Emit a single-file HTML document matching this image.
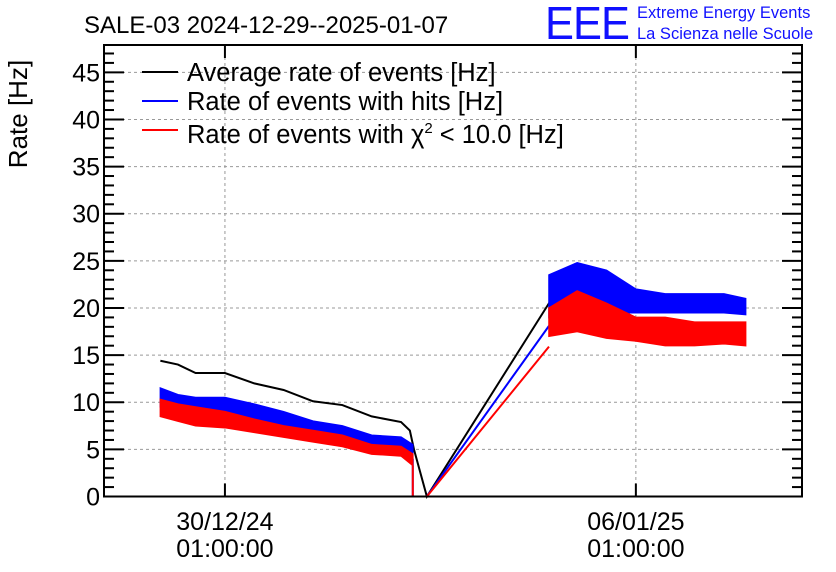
<!DOCTYPE html>
<html><head><meta charset="utf-8"><style>
body{margin:0;background:#fff;}
svg{display:block;font-family:"Liberation Sans",Arial,sans-serif;}
</style></head><body>
<svg id="chart" width="836" height="572" viewBox="0 0 836 572">
<rect width="836" height="572" fill="#fff"/>
<text x="84" y="33" font-size="24">SALE-03 2024-12-29--2025-01-07</text>
<text x="545" y="39" font-size="46" fill="#1010ff" letter-spacing="-1" textLength="84" lengthAdjust="spacingAndGlyphs">EEE</text>
<text x="637" y="18" font-size="16.5" fill="#1010ff">Extreme Energy Events</text>
<text x="637" y="39" font-size="16.5" fill="#1010ff">La Scienza nelle Scuole</text>
<text transform="translate(27,114) rotate(-90)" text-anchor="middle" font-size="26">Rate [Hz]</text>
<g id="grid"></g><g id="series"></g><g id="axes"></g>
<g>
<line x1="142" y1="72" x2="178" y2="72" stroke="#000" stroke-width="2"/>
<text x="187" y="81" font-size="25.5">Average rate of events [Hz]</text>
<line x1="142" y1="101" x2="178" y2="101" stroke="#0000ff" stroke-width="2"/>
<text x="187" y="110" font-size="25.5">Rate of events with hits [Hz]</text>
<line x1="142" y1="130" x2="178" y2="130" stroke="#ff0000" stroke-width="2"/>
<text x="187" y="143" font-size="25.5">Rate of events with χ<tspan dy="-10" font-size="15">2</tspan><tspan dy="10"> &lt; 10.0 [Hz]</tspan></text>
</g>
</svg>
<script>
// days relative to 30/12/24 01:00:00
const xTickDays = [0, 7];
const xTickLabels1 = ["30/12/24", "06/01/25"];
const xTickLabels2 = ["01:00:00", "01:00:00"];
const yTicks = [0,5,10,15,20,25,30,35,40,45];
const avgDays = [-1.1,-0.8,-0.5,0,0.5,1,1.5,2,2.5,3,3.15,3.22,3.44,5.52,6,6.5,7,7.5,8,8.5,8.87];
const avgVals = [14.4,14.0,13.1,13.1,12.0,11.3,10.1,9.7,8.5,7.9,7.0,5.0,0,20.5,22,21.5,20.5,20,20,20,20];
const bandDaysL = [-1.1,-0.8,-0.5,0,0.5,1,1.5,2,2.5,3,3.2];
const blueHighL = [11.5,10.8,10.5,10.5,9.8,9.0,8.0,7.5,6.5,6.3,5.5];
const blueLowL  = [9.5,9.0,8.8,8.7,8.0,7.2,6.5,5.8,5.0,5.0,4.0];
const redHighL  = [10.3,9.8,9.5,9.0,8.2,7.5,7.0,6.5,5.5,5.3,4.5];
const redLowL   = [8.5,8.0,7.5,7.3,6.8,6.3,5.8,5.3,4.5,4.3,3.3];
const gapDays = [3.2,3.2,3.44,5.52];
const blueGap = [4.0,0,0,18.1];
const redGap = [3.3,0,0,15.9];
const bandDaysR = [5.52,6,6.5,7,7.5,8,8.5,8.87];
const blueHighR = [23.5,24.8,24.0,22.0,21.5,21.5,21.5,21.0];
const blueLowR  = [19.0,20.0,19.5,19.5,19.5,19.5,19.5,19.3];
const redHighR  = [20.0,21.8,20.5,19.0,19.0,18.5,18.5,18.5];
const redLowR   = [17.0,17.5,16.8,16.5,16.0,16.0,16.2,16.0];

const L=104,R=802,T=45,B=496.5;
const x0=-2.06,x1=9.83,ymax=47.9;
const X=d=>L+(d-x0)/(x1-x0)*(R-L);
const Y=v=>B-v/ymax*(B-T);
const NS="http://www.w3.org/2000/svg";
function mk(tag,parent,attrs){const e=document.createElementNS(NS,tag);for(const k in attrs)e.setAttribute(k,attrs[k]);parent.appendChild(e);return e;}
const grid=document.getElementById('grid'),ser=document.getElementById('series'),ax=document.getElementById('axes');
yTicks.forEach(v=>{if(v===0)return;const g=mk('line',grid,{x1:L,x2:R,y1:Y(v),y2:Y(v),stroke:'#999','stroke-dasharray':'3,3','stroke-width':1});

});
xTickDays.forEach(d=>{const g=mk('line',grid,{x1:X(d),x2:X(d),y1:T,y2:B,stroke:'#999','stroke-dasharray':'3,3','stroke-width':1});

});
function band(days,hi,lo,color,name){
 let p=days.map((d,i)=>X(d)+','+Y(hi[i])).concat(days.map((d,i)=>[X(d),Y(lo[i])]).reverse().map(a=>a.join(',')));
 const e=mk('polygon',ser,{points:p.join(' '),fill:color,stroke:color,'stroke-width':1.5});
 
 
}
function line(days,vals,color,name){
 const e=mk('polyline',ser,{points:days.map((d,i)=>X(d)+','+Y(vals[i])).join(' '),fill:'none',stroke:color,'stroke-width':2});
 
 
}
line(avgDays,avgVals,'#000','average-rate-line');
band(bandDaysL,blueHighL,blueLowL,'#0000ff','hits-rate-band-left');
band(bandDaysR,blueHighR,blueLowR,'#0000ff','hits-rate-band-right');
line(gapDays,blueGap,'#0000ff','hits-rate-gap');
band(bandDaysL,redHighL,redLowL,'#ff0000','chi2-rate-band-left');
band(bandDaysR,redHighR,redLowR,'#ff0000','chi2-rate-band-right');
line(gapDays,redGap,'#ff0000','chi2-rate-gap');
const fr=mk('rect',ax,{x:L,y:T,width:R-L,height:B-T,fill:'none',stroke:'#000','stroke-width':2});


for(let v=0;v<=47;v++){const len=v%5===0?20:10;
 mk('line',ax,{x1:L,x2:L+len,y1:Y(v),y2:Y(v),stroke:'#000','stroke-width':2});
 mk('line',ax,{x1:R,x2:R-len,y1:Y(v),y2:Y(v),stroke:'#000','stroke-width':2});}
yTicks.forEach(v=>{const t=mk('text',ax,{x:L-4,y:Y(v)+9,'text-anchor':'end','font-size':25});t.textContent=v;

});
xTickDays.forEach((d,i)=>{
 mk('line',ax,{x1:X(d),x2:X(d),y1:B,y2:B-13,stroke:'#000','stroke-width':2});
 mk('line',ax,{x1:X(d),x2:X(d),y1:T,y2:T+13,stroke:'#000','stroke-width':2});
 const a=mk('text',ax,{x:X(d),y:530,'text-anchor':'middle','font-size':25});a.textContent=xTickLabels1[i];
 
 
 const b=mk('text',ax,{x:X(d),y:557,'text-anchor':'middle','font-size':25});b.textContent=xTickLabels2[i];
 
 
});
</script>
</body></html>
